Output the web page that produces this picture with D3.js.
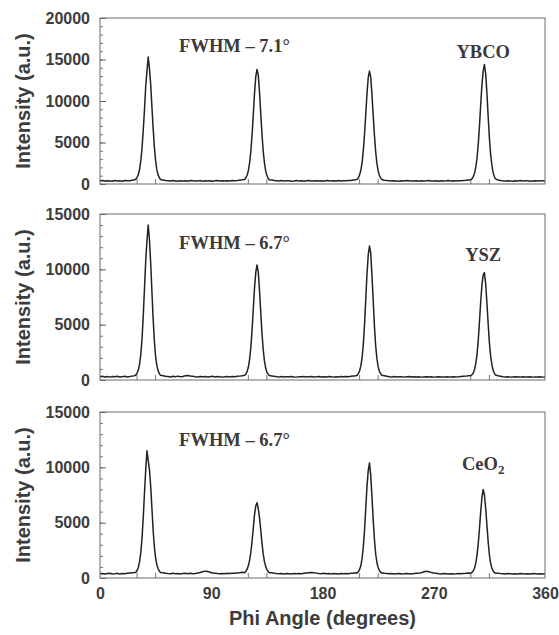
<!doctype html>
<meta charset="utf-8">
<body style="margin:0;background:#fff">

<div id="chart"></div>

<script src="https://d3js.org/d3.v7.min.js"></script>
<script>

// phi angle grid (degrees), 1 deg steps across the peaks, 2 deg elsewhere
const phi = [
  0, 2, 4, 6, 8, 10, 12, 14, 16, 18, 20, 22, 24, 26, 28,
  29, 30, 31, 32, 33, 34, 35, 36, 37, 38, 39, 40, 41, 42, 43, 44, 45, 46, 47, 48, 49,
  51, 53, 55, 57, 59, 61, 63, 65, 67, 69, 71, 73, 75, 77, 79, 81, 83, 85, 87, 89, 91, 93, 95, 97, 99, 101, 103, 105, 107, 109, 111, 113, 115,
  117, 118, 119, 120, 121, 122, 123, 124, 125, 126, 127, 128, 129, 130, 131, 132, 133, 134, 135, 136, 137,
  139, 141, 143, 145, 147, 149, 151, 153, 155, 157, 159, 161, 163, 165, 167, 169, 171, 173, 175, 177, 179, 181, 183, 185, 187, 189, 191, 193, 195, 197, 199, 201, 203, 205, 207,
  208, 209, 210, 211, 212, 213, 214, 215, 216, 217, 218, 219, 220, 221, 222, 223, 224, 225, 226, 227, 228,
  230, 232, 234, 236, 238, 240, 242, 244, 246, 248, 250, 252, 254, 256, 258, 260, 262, 264, 266, 268, 270, 272, 274, 276, 278, 280, 282, 284, 286, 288, 290, 292, 294, 296, 298,
  300, 301, 302, 303, 304, 305, 306, 307, 308, 309, 310, 311, 312, 313, 314, 315, 316, 317, 318, 319, 320,
  322, 324, 326, 328, 330, 332, 334, 336, 338, 340, 342, 344, 346, 348, 350, 352, 354, 356, 358, 360
]

const ybco = [
  380, 420, 350, 400, 370, 330, 410, 360, 390, 340, 420, 380, 400, 450, 500,
  600, 800, 1150, 1750, 2800, 4300, 6500, 9000, 11800, 13600, 15300, 13900, 12000, 9300, 6700, 4400, 2800, 1700, 1100, 750, 550,
  480, 420, 390, 350, 410, 370, 330, 400, 360, 380, 340, 420, 390, 350, 370, 410, 330, 380, 360, 400, 340, 390, 420, 360, 380, 350, 400, 370, 410, 390, 420, 460, 500,
  550, 750, 1050, 1600, 2500, 3900, 5900, 8300, 10900, 12900, 13800, 13200, 11200, 8600, 6100, 4000, 2600, 1600, 1050, 700, 520,
  470, 420, 390, 360, 410, 350, 380, 400, 340, 370, 410, 360, 390, 330, 380, 420, 350, 370, 400, 360, 390, 340, 410, 380, 350, 400, 370, 420, 360, 390, 380, 410, 430, 470, 510,
  560, 760, 1100, 1650, 2550, 4000, 6000, 8400, 10900, 12800, 13600, 12900, 10800, 8300, 5900, 3900, 2500, 1600, 1050, 720, 540,
  460, 410, 380, 350, 400, 370, 340, 390, 360, 410, 380, 350, 370, 400, 330, 390, 360, 380, 410, 350, 370, 400, 340, 390, 360, 380, 410, 350, 390, 370, 400, 380, 420, 440, 480,
  520, 640, 900, 1300, 2000, 3100, 4800, 7000, 9600, 12000, 13600, 14400, 13300, 11000, 8200, 5600, 3600, 2300, 1400, 900, 620,
  480, 420, 380, 350, 400, 370, 340, 390, 360, 410, 350, 380, 400, 340, 370, 390, 360, 400, 380, 350
]

const ysz = [
  300, 330, 280, 310, 260, 320, 290, 340, 270, 300, 330, 280, 310, 350, 390,
  450, 620, 900, 1400, 2300, 3700, 5800, 8300, 10800, 12600, 14000, 12700, 10600, 8000, 5500, 3500, 2100, 1300, 850, 560, 420,
  380, 340, 310, 280, 330, 300, 350, 290, 320, 380, 410, 360, 330, 300, 280, 320, 290, 310, 270, 300, 330, 280, 310, 290, 260, 300, 320, 280, 310, 290, 330, 350, 380,
  420, 540, 760, 1150, 1850, 2900, 4500, 6400, 8300, 9700, 10400, 9800, 8200, 6200, 4300, 2800, 1750, 1100, 720, 520, 400,
  370, 330, 300, 280, 310, 270, 300, 290, 320, 280, 260, 300, 290, 310, 270, 300, 320, 280, 290, 310, 270, 300, 280, 310, 290, 260, 300, 280, 310, 290, 320, 300, 330, 360, 390,
  430, 580, 830, 1250, 2000, 3200, 5000, 7300, 9600, 11300, 12100, 11500, 9500, 7200, 4900, 3100, 1950, 1200, 800, 560, 420,
  380, 340, 300, 280, 310, 270, 290, 300, 260, 290, 310, 280, 300, 270, 290, 260, 280, 300, 270, 290, 260, 280, 300, 270, 260, 290, 280, 270, 300, 280, 290, 310, 330, 350, 380,
  400, 480, 650, 950, 1500, 2300, 3600, 5300, 7100, 8600, 9500, 9700, 8700, 7000, 5100, 3400, 2200, 1400, 900, 600, 450,
  380, 340, 300, 270, 290, 260, 280, 300, 270, 260, 290, 270, 280, 300, 260, 280, 270, 290, 260, 280
]

const ceo2 = [
  380, 410, 360, 400, 430, 370, 390, 420, 360, 400, 380, 420, 450, 480, 500,
  520, 680, 950, 1450, 2300, 3600, 5500, 7700, 9800, 11500, 10600, 9800, 8300, 6300, 4300, 2800, 1800, 1200, 850, 620, 500,
  470, 430, 400, 380, 420, 390, 410, 370, 400, 430, 390, 420, 380, 410, 450, 500, 560, 620, 580, 520, 460, 430, 400, 380, 410, 390, 420, 400, 430, 420, 450, 480, 520,
  480, 600, 800, 1100, 1600, 2300, 3300, 4500, 5700, 6500, 6800, 6300, 5500, 4400, 3200, 2200, 1500, 1050, 760, 580, 480,
  470, 430, 400, 380, 410, 370, 400, 390, 360, 400, 380, 410, 390, 420, 450, 480, 500, 470, 440, 410, 390, 420, 380, 400, 370, 410, 390, 360, 400, 380, 410, 390, 420, 440, 470,
  450, 560, 760, 1100, 1750, 2800, 4300, 6300, 8300, 9700, 10400, 9300, 7400, 5300, 3500, 2200, 1400, 950, 680, 520, 450,
  420, 400, 380, 410, 360, 390, 400, 370, 380, 410, 390, 370, 400, 420, 440, 480, 560, 600, 560, 500, 450, 420, 390, 370, 400, 380, 360, 390, 370, 380, 400, 390, 410, 420, 450,
  430, 510, 660, 900, 1350, 2050, 3100, 4500, 6000, 7300, 8000, 7500, 6300, 4800, 3300, 2100, 1350, 900, 640, 500, 430,
  440, 410, 390, 370, 400, 380, 360, 390, 370, 400, 380, 360, 390, 370, 400, 380, 360, 390, 370, 380
]

const materials = ["YBCO", "YSZ", "CeO2"]
const fwhm = ["FWHM \u2013 7.1\u00b0", "FWHM \u2013 6.7\u00b0", "FWHM \u2013 6.7\u00b0"]
const yMax = [20000, 15000, 15000]
const xTicks = [0, 90, 180, 270, 360]
const markTicks = [30, 45, 120, 135, 210, 225, 300, 315]

const series = [ybco, ysz, ceo2]

const margin = { left: 100, right: 14 }
const width = 559 - margin.left - margin.right
const panelTop = [18, 214, 412]
const panelH = 166

const svg = d3.select("#chart").append("svg")
  .attr("width", 559)
  .attr("height", 635)
  .style("font-family", "'Liberation Sans', Arial, sans-serif")

const x = d3.scaleLinear().domain([0, 360]).range([0, width])

series.forEach((vals, i) => {
  const g = svg.append("g")
    .attr("transform", "translate(" + margin.left + "," + panelTop[i] + ")")

  const y = d3.scaleLinear().domain([0, yMax[i]]).range([panelH, 0])

  // minor y ticks every 1000
  g.append("g")
    .call(d3.axisLeft(y).tickValues(d3.range(0, yMax[i] + 1, 1000)).tickSize(-3).tickFormat(""))
    .call(a => a.select(".domain").remove())
    .selectAll("line").attr("stroke", "#777")

  const yAxis = g.append("g")
    .call(d3.axisLeft(y).tickValues(d3.range(0, yMax[i] + 1, 5000)).tickSize(-6).tickPadding(10).tickFormat(d3.format("d")))
  yAxis.select(".domain").remove()
  yAxis.selectAll("line").attr("stroke", "#666")
  yAxis.selectAll("text")
    .style("font-size", "16px")
    .style("font-weight", "bold")
    .attr("fill", "#3c3c3c")

  // small marks at the peak feet
  g.selectAll(".mark")
    .data(markTicks)
    .enter().append("line")
    .attr("x1", d => x(d)).attr("x2", d => x(d))
    .attr("y1", panelH).attr("y2", panelH - 5)
    .attr("stroke", "#777")

  const line = d3.line()
    .x(d => x(d[0]))
    .y(d => y(d[1]))

  g.append("path")
    .datum(d3.zip(phi, vals))
    .attr("d", line)
    .attr("fill", "none")
    .attr("stroke", "#222")
    .attr("stroke-width", 1.5)
    .attr("stroke-linejoin", "round")

  g.append("rect")
    .attr("width", width)
    .attr("height", panelH)
    .attr("fill", "none")
    .attr("stroke", "#6a6a6a")

  g.append("text")
    .attr("x", x(64))
    .attr("y", i == 1 ? 35 : 34)
    .style("font-family", "'Liberation Serif', 'Times New Roman', serif")
    .style("font-weight", "bold")
    .style("font-size", "18.5px")
    .attr("fill", "#3a3a3a")
    .text(fwhm[i])

  const lab = g.append("text")
    .attr("x", x(310))
    .attr("y", [40, 47, 58][i])
    .attr("text-anchor", "middle")
    .style("font-family", "'Liberation Serif', 'Times New Roman', serif")
    .style("font-weight", "bold")
    .style("font-size", "18.5px")
    .attr("fill", "#3a3a3a")
  if (materials[i] == "CeO2") {
    lab.append("tspan").text("CeO")
    lab.append("tspan").attr("dy", 4).style("font-size", "13px").text("2")
  } else {
    lab.text(materials[i])
  }

  svg.append("text")
    .attr("transform", "translate(30," + (panelTop[i] + panelH / 2) + ") rotate(-90)")
    .attr("text-anchor", "middle")
    .style("font-size", "20px")
    .style("font-weight", "bold")
    .attr("fill", "#3c3c3c")
    .text("Intensity (a.u.)")

  if (i == 2) {
    const xAxis = g.append("g")
      .attr("transform", "translate(0," + panelH + ")")
      .call(d3.axisBottom(x).tickValues(xTicks).tickSize(0).tickPadding(10))
    xAxis.select(".domain").remove()
    xAxis.selectAll("text")
      .style("font-size", "16px")
      .style("font-weight", "bold")
      .attr("fill", "#3c3c3c")
  }
})

svg.append("text")
  .attr("x", margin.left + width / 2)
  .attr("y", 625)
  .attr("text-anchor", "middle")
  .style("font-size", "20px")
  .style("font-weight", "bold")
  .attr("fill", "#3c3c3c")
  .text("Phi Angle (degrees)")

</script>
</body>
